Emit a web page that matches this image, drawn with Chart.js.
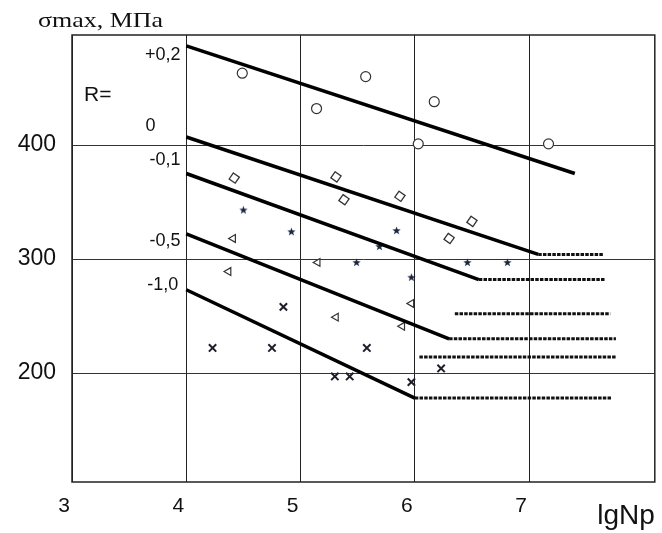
<!DOCTYPE html>
<html>
<head>
<meta charset="utf-8">
<script src="https://cdn.jsdelivr.net/npm/chart.js@4.4.1/dist/chart.umd.min.js"></script>
<style>
  body { margin: 0; background: #fff; }
  #wrap { width: 662px; height: 533px; }
</style>
</head>
<body>
<div id="wrap"><canvas id="myChart"></canvas></div>
<script>
// tick labels
const xTicks = [3, 4, 5, 6, 7];
const yTicks = [200, 300, 400];

// experimental points, one group per R value
const circleX = [4.49, 5.14, 5.57, 6.17, 6.03, 7.17];
const circleY = [463, 432, 460, 438, 401, 401];
const diamondX = [4.42, 5.31, 5.38, 5.87, 6.50, 6.30];
const diamondY = [371, 372, 352, 355, 333, 318];
const starX = [4.50, 4.92, 5.84, 5.69, 5.49, 6.46, 6.81, 5.97];
const starY = [343, 324, 325, 311, 297, 297, 297, 284];
const triX = [4.41, 4.37, 5.15, 5.31, 5.97, 5.89];
const triY = [318, 289, 297, 249, 261, 241];
const crossX = [4.23, 4.75, 4.85, 5.58, 5.30, 5.43, 5.97, 6.23];
const crossY = [222, 222, 258, 222, 197, 197, 192, 204];

// fatigue curves: sloped part [x0, y0, x1, y1]
const slopeLines = [
  [4, 487, 7.40, 375],
  [4, 407, 7.08, 304],
  [4, 375, 6.56, 282],
  [4, 322, 6.30, 230],
  [4, 273, 6.00, 178]
];
// horizontal (endurance limit) parts [xStart, xEnd, y]
const flatLines = [
  [7.08, 7.65, 304],
  [6.56, 7.66, 282],
  [6.35, 7.71, 252],
  [6.30, 7.76, 230],
  [6.04, 7.76, 214],
  [6.00, 7.72, 178]
];

// R labels [text, x, y]
const rLabels = [
  ['+0,2', 3.95, 479],
  ['0', 3.73, 417],
  ['-0,1', 3.95, 387],
  ['-0,5', 3.95, 316],
  ['-1,0', 3.93, 277]
];

function pts(xs, ys) {
  return xs.map(function(x, i) { return {x: x, y: ys[i]}; });
}

function makeStar() {
  const c = document.createElement('canvas');
  c.width = 9; c.height = 9;
  const g = c.getContext('2d');
  g.fillStyle = '#1c2440';
  g.beginPath();
  for (let i = 0; i < 10; i++) {
    const r = i % 2 == 0 ? 4.4 : 1.8;
    const a = -Math.PI / 2 + i * Math.PI / 5;
    g.lineTo(4.5 + r * Math.cos(a), 4.8 + r * Math.sin(a));
  }
  g.closePath();
  g.fill();
  return c;
}

const datasets = [];
slopeLines.forEach(function(l) {
  datasets.push({
    data: [{x: l[0], y: l[1]}, {x: l[2], y: l[3]}],
    showLine: true, pointRadius: 0, borderColor: '#000', borderWidth: 3.5
  });
});
flatLines.forEach(function(l) {
  datasets.push({
    data: [{x: l[0], y: l[2]}, {x: l[1], y: l[2]}],
    showLine: true, pointRadius: 0, borderColor: '#111', borderWidth: 3,
    borderDash: [3.5, 1.2]
  });
});
datasets.push({data: pts(circleX, circleY), pointStyle: 'circle', pointRadius: 5,
  borderColor: '#333', backgroundColor: '#fff', borderWidth: 1.2});
datasets.push({data: pts(diamondX, diamondY), pointStyle: 'rect', rotation: 35, pointRadius: 5.2,
  borderColor: '#333', backgroundColor: '#fff', borderWidth: 1.3});
datasets.push({data: pts(starX, starY), pointStyle: makeStar(), pointRadius: 4});
datasets.push({data: pts(triX, triY), pointStyle: 'triangle', rotation: -90, pointRadius: 4.5,
  borderColor: '#333', backgroundColor: '#fff', borderWidth: 1.2});
datasets.push({data: pts(crossX, crossY), pointStyle: 'crossRot', pointRadius: 5.2,
  borderColor: '#1f1f2a', borderWidth: 2});

const textPlugin = {
  id: 'textPlugin',
  afterDraw: function(chart) {
    const ctx = chart.ctx;
    const a = chart.chartArea;
    const xs = chart.scales.x, ys = chart.scales.y;
    ctx.save();
    ctx.strokeStyle = '#222';
    ctx.lineWidth = 1.5;
    ctx.strokeRect(a.left, a.top, a.right - a.left, a.bottom - a.top);

    // axis caption, stretched to the width it has in the picture
    ctx.fillStyle = '#111';
    ctx.font = '21px "Liberation Serif"';
    ctx.textAlign = 'left';
    ctx.textBaseline = 'alphabetic';
    const cap = 'σmax, МПа';
    const w = ctx.measureText(cap).width;
    ctx.save();
    ctx.translate(38, 27);
    ctx.scale(125 / w, 1);
    ctx.fillText(cap, 0, 0);
    ctx.restore();

    ctx.font = '21px "Liberation Sans"';
    ctx.textBaseline = 'middle';
    ctx.fillText('R=', 84, ys.getPixelForValue(444));

    ctx.font = '18px "Liberation Sans"';
    ctx.textAlign = 'right';
    rLabels.forEach(function(l) {
      ctx.fillText(l[0], xs.getPixelForValue(l[1]), ys.getPixelForValue(l[2]));
    });
    ctx.restore();
  }
};

new Chart(document.getElementById('myChart'), {
  type: 'scatter',
  data: {datasets: datasets},
  options: {
    responsive: true,
    maintainAspectRatio: false,
    animation: false,
    layout: {padding: {left: 0, right: 4, top: 35, bottom: 0}},
    plugins: {legend: {display: false}, tooltip: {enabled: false}},
    scales: {
      x: {
        type: 'linear', min: 3, max: 8.1,
        afterBuildTicks: function(s) { s.ticks = xTicks.map(function(v) { return {value: v}; }); },
        afterFit: function(s) { s.height = 51; },
        grid: {color: '#222', lineWidth: 1, drawTicks: false},
        border: {display: false},
        ticks: {font: {size: 21, family: 'Liberation Sans'}, color: '#111', padding: 12, labelOffset: -8},
        title: {display: true, text: 'lgNp', align: 'end', color: '#111',
          font: {size: 28, family: 'Liberation Sans'}, padding: {top: 0, bottom: 0}}
      },
      y: {
        type: 'linear', min: 104.4, max: 496.5,
        afterBuildTicks: function(s) { s.ticks = yTicks.map(function(v) { return {value: v}; }); },
        afterFit: function(s) { s.width = 72; },
        grid: {color: '#333', lineWidth: 1, drawTicks: false},
        border: {display: false},
        ticks: {font: {size: 23, family: 'Liberation Sans'}, color: '#111', padding: 16}
      }
    }
  },
  plugins: [textPlugin]
});
</script>
</body>
</html>
